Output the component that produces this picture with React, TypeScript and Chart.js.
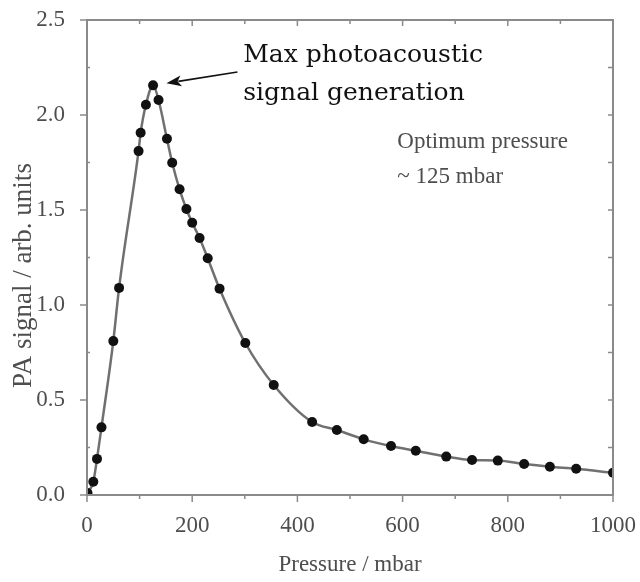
import React, { useEffect, useRef } from "react";
import { Chart, registerables } from "chart.js";

Chart.register(...registerables);

// Data
const pressure = [1, 12, 19, 27.5, 50, 61, 98, 102, 112, 125.6, 136, 152, 162, 176, 189, 200, 214, 229.5, 252, 301, 355, 428, 475, 526, 578, 625, 683, 732, 781, 831, 880, 930, 1000];
const signal = [0.01, 0.07, 0.19, 0.356, 0.81, 1.09, 1.81, 1.907, 2.054, 2.156, 2.079, 1.875, 1.749, 1.609, 1.505, 1.433, 1.353, 1.246, 1.086, 0.8, 0.579, 0.384, 0.342, 0.293, 0.258, 0.233, 0.202, 0.184, 0.181, 0.163, 0.149, 0.138, 0.117];
const xMajorTicks = [0, 200, 400, 600, 800, 1000];
const xMinorTicks = [100, 300, 500, 700, 900];
const yMajorTicks = [0, 0.5, 1.0, 1.5, 2.0, 2.5];
const yMinorTicks = [0.25, 0.75, 1.25, 1.75, 2.25];

const xTitle = "Pressure / mbar";
const yTitle = "PA signal / arb. units";
const peakNote = ["Max photoacoustic", "signal generation"];
const optimumNote = ["Optimum pressure", "~ 125 mbar"];

const SERIF = "'Liberation Serif', 'Times New Roman', serif";
const GRAY_TEXT = "#4e4e4e";
const AXIS = "#8a8a8a";

const decorPlugin = {
  id: "decor",
  afterDraw(chart: any) {
    const { ctx, chartArea: a, scales } = chart;
    const x = scales.x;
    const y = scales.y;
    ctx.save();
    // frame
    ctx.strokeStyle = AXIS;
    ctx.lineWidth = 2;
    ctx.strokeRect(a.left, a.top, a.right - a.left, a.bottom - a.top);
    // ticks
    ctx.lineWidth = 1.5;
    ctx.beginPath();
    for (const v of xMajorTicks) {
      const px = x.getPixelForValue(v);
      ctx.moveTo(px, a.bottom);
      ctx.lineTo(px, a.bottom + 7);
      ctx.moveTo(px, a.top);
      ctx.lineTo(px, a.top + 6);
    }
    for (const v of xMinorTicks) {
      const px = x.getPixelForValue(v);
      ctx.moveTo(px, a.bottom);
      ctx.lineTo(px, a.bottom + 4);
      ctx.moveTo(px, a.top);
      ctx.lineTo(px, a.top + 4);
    }
    for (const v of yMajorTicks) {
      const py = y.getPixelForValue(v);
      ctx.moveTo(a.left, py);
      ctx.lineTo(a.left - 7, py);
      ctx.moveTo(a.right, py);
      ctx.lineTo(a.right - 5, py);
    }
    for (const v of yMinorTicks) {
      const py = y.getPixelForValue(v);
      ctx.moveTo(a.left, py);
      ctx.lineTo(a.left + 3, py);
      ctx.moveTo(a.right, py);
      ctx.lineTo(a.right - 5, py);
    }
    ctx.stroke();

    // y title
    ctx.save();
    ctx.translate(31, (a.top + a.bottom) / 2 + 18);
    ctx.rotate(-Math.PI / 2);
    ctx.fillStyle = GRAY_TEXT;
    ctx.font = `27px ${SERIF}`;
    ctx.textAlign = "center";
    ctx.textBaseline = "alphabetic";
    ctx.fillText(yTitle, 0, 0);
    ctx.restore();

    // arrow to peak
    const tipX = x.getPixelForValue(151);
    const tipY = y.getPixelForValue(2.167);
    const tailX = x.getPixelForValue(286);
    const tailY = y.getPixelForValue(2.226);
    const ang = Math.atan2(tipY - tailY, tipX - tailX);
    const headLen = 15;
    const headW = 5.5;
    ctx.strokeStyle = "#111";
    ctx.fillStyle = "#111";
    ctx.lineWidth = 1.6;
    ctx.beginPath();
    ctx.moveTo(tailX, tailY);
    ctx.lineTo(tipX - Math.cos(ang) * headLen * 0.8, tipY - Math.sin(ang) * headLen * 0.8);
    ctx.stroke();
    ctx.beginPath();
    ctx.moveTo(tipX, tipY);
    ctx.lineTo(
      tipX - Math.cos(ang) * headLen + Math.sin(ang) * headW,
      tipY - Math.sin(ang) * headLen - Math.cos(ang) * headW
    );
    ctx.lineTo(
      tipX - Math.cos(ang) * headLen * 0.75,
      tipY - Math.sin(ang) * headLen * 0.75
    );
    ctx.lineTo(
      tipX - Math.cos(ang) * headLen - Math.sin(ang) * headW,
      tipY - Math.sin(ang) * headLen + Math.cos(ang) * headW
    );
    ctx.closePath();
    ctx.fill();

    // peak note
    ctx.fillStyle = "#111";
    ctx.font = `25px 'DejaVu Serif', serif`;
    ctx.textAlign = "left";
    ctx.textBaseline = "alphabetic";
    const noteX = x.getPixelForValue(297);
    ctx.fillText(peakNote[0], noteX, y.getPixelForValue(2.279));
    ctx.fillText(peakNote[1], noteX, y.getPixelForValue(2.079));

    // optimum note
    ctx.fillStyle = GRAY_TEXT;
    ctx.font = `23px ${SERIF}`;
    const optX = x.getPixelForValue(590);
    ctx.fillText(optimumNote[0], optX, y.getPixelForValue(1.826));
    ctx.fillText(optimumNote[1], optX, y.getPixelForValue(1.642));
    ctx.restore();
  },
};

export default function App() {
  const canvasRef = useRef<HTMLCanvasElement | null>(null);

  useEffect(() => {
    if (!canvasRef.current) return;
    const chart = new Chart(canvasRef.current, {
      type: "line",
      data: {
        datasets: [
          {
            data: pressure.map((p, i) => ({ x: p, y: signal[i] })),
            borderColor: "#707070",
            borderWidth: 2.5,
            pointRadius: 5,
            pointBackgroundColor: "#111111",
            pointBorderColor: "#111111",
            pointBorderWidth: 0,
            cubicInterpolationMode: "monotone",
            fill: false,
          },
        ],
      },
      options: {
        animation: false,
        responsive: false,
        layout: { padding: { top: 20, right: 27, left: 0, bottom: 0 } },
        plugins: {
          legend: { display: false },
          tooltip: { enabled: false },
        },
        scales: {
          x: {
            type: "linear",
            min: 0,
            max: 1000,
            grid: { display: false },
            border: { display: false },
            ticks: {
              stepSize: 200,
              color: GRAY_TEXT,
              font: { family: SERIF, size: 23 },
              padding: 9,
              maxRotation: 0,
              callback: (v: any) => String(v),
            },
            title: {
              display: true,
              text: xTitle,
              color: GRAY_TEXT,
              font: { family: SERIF, size: 23 },
              padding: { top: 0, bottom: 3 },
            },
            afterFit(scale: any) {
              scale.height = 87;
              scale.paddingLeft = 0;
              scale.paddingRight = 0;
            },
          },
          y: {
            type: "linear",
            min: 0,
            max: 2.5,
            grid: { display: false },
            border: { display: false },
            ticks: {
              stepSize: 0.5,
              color: GRAY_TEXT,
              font: { family: SERIF, size: 23 },
              padding: 14,
              callback: (v: any) => Number(v).toFixed(1),
            },
            afterFit(scale: any) {
              scale.width = 87;
              scale.paddingTop = 0;
              scale.paddingBottom = 0;
            },
          },
        },
      },
      plugins: [decorPlugin],
    });
    return () => chart.destroy();
  }, []);

  return (
    <div style={{ position: "absolute", left: 0, top: 0, width: 640, height: 582, background: "#fff" }}>
      <canvas ref={canvasRef} width={640} height={582} />
    </div>
  );
}
